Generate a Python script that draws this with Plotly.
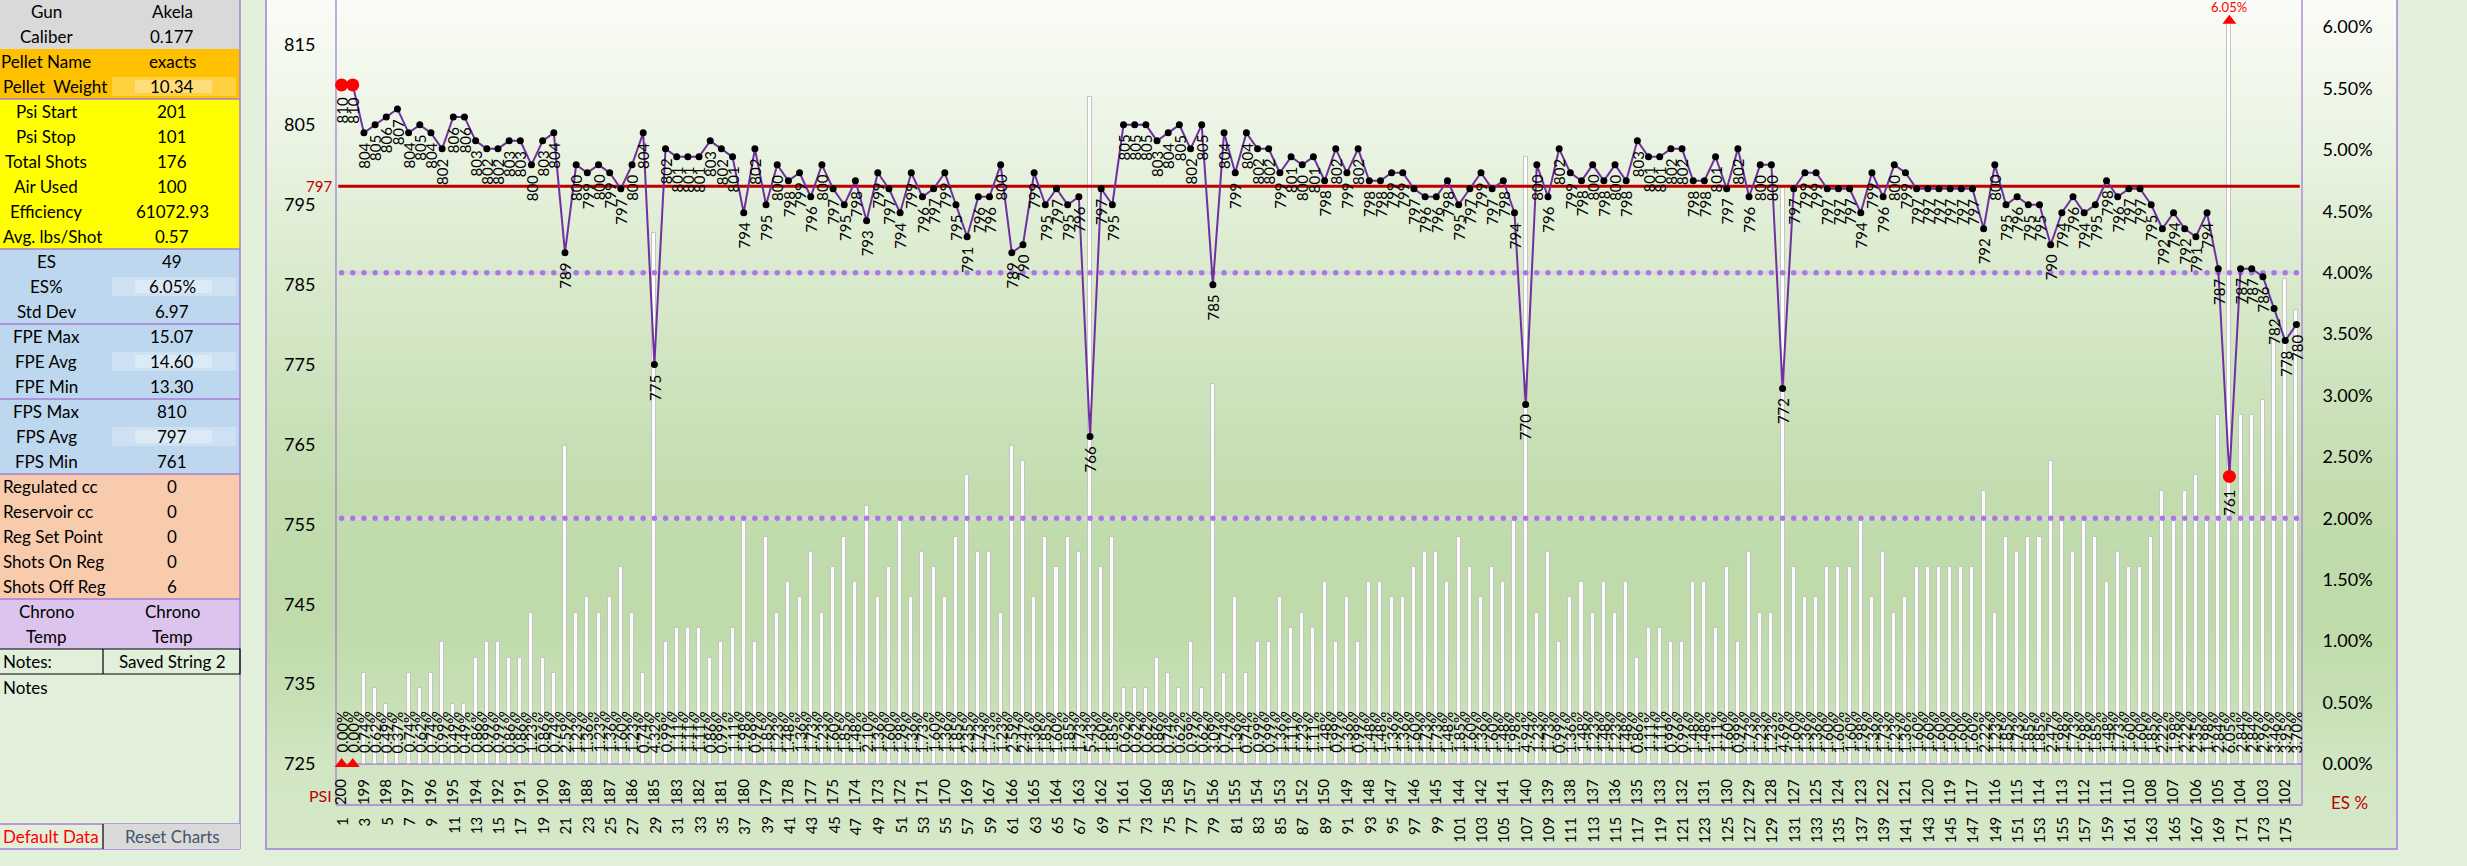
import plotly.graph_objects as go

W, H = 2467, 866
PL, PR, PT, PB = 336, 2302, 0, 764

# ---------------- data ----------------
shots = list(range(1, 177))
fps = [810, 810, 804, 805, 806, 807, 804, 805, 804, 802,
       806, 806, 803, 802, 802, 803, 803, 800, 803, 804,
       789, 800, 799, 800, 799, 797, 800, 804, 775, 802,
       801, 801, 801, 803, 802, 801, 794, 802, 795, 800,
       798, 799, 796, 800, 797, 795, 798, 793, 799, 797,
       794, 799, 796, 797, 799, 795, 791, 796, 796, 800,
       789, 790, 799, 795, 797, 795, 796, 766, 797, 795,
       805, 805, 805, 803, 804, 805, 802, 805, 785, 804,
       799, 804, 802, 802, 799, 801, 800, 801, 798, 802,
       799, 802, 798, 798, 799, 799, 797, 796, 796, 798,
       795, 797, 799, 797, 798, 794, 770, 800, 796, 802,
       799, 798, 800, 798, 800, 798, 803, 801, 801, 802,
       802, 798, 798, 801, 797, 802, 796, 800, 800, 772,
       797, 799, 799, 797, 797, 797, 794, 799, 796, 800,
       799, 797, 797, 797, 797, 797, 797, 792, 800, 795,
       796, 795, 795, 790, 794, 796, 794, 795, 798, 796,
       797, 797, 795, 792, 794, 792, 791, 794, 787, 761,
       787, 787, 786, 782, 778, 780]

es_pct = [0.00, 0.00, 0.74, 0.62, 0.49, 0.37, 0.74, 0.62, 0.74, 0.99,
          0.49, 0.49, 0.86, 0.99, 0.99, 0.86, 0.86, 1.23, 0.86, 0.74,
          2.59, 1.23, 1.36, 1.23, 1.36, 1.60, 1.23, 0.74, 4.32, 0.99,
          1.11, 1.11, 1.11, 0.86, 0.99, 1.11, 1.98, 0.99, 1.85, 1.23,
          1.48, 1.36, 1.73, 1.23, 1.60, 1.85, 1.48, 2.10, 1.36, 1.60,
          1.98, 1.36, 1.73, 1.60, 1.36, 1.85, 2.35, 1.73, 1.73, 1.23,
          2.59, 2.47, 1.36, 1.85, 1.60, 1.85, 1.73, 5.43, 1.60, 1.85,
          0.62, 0.62, 0.62, 0.86, 0.74, 0.62, 0.99, 0.62, 3.09, 0.74,
          1.36, 0.74, 0.99, 0.99, 1.36, 1.11, 1.23, 1.11, 1.48, 0.99,
          1.36, 0.99, 1.48, 1.48, 1.36, 1.36, 1.60, 1.73, 1.73, 1.48,
          1.85, 1.60, 1.36, 1.60, 1.48, 1.98, 4.94, 1.23, 1.73, 0.99,
          1.36, 1.48, 1.23, 1.48, 1.23, 1.48, 0.86, 1.11, 1.11, 0.99,
          0.99, 1.48, 1.48, 1.11, 1.60, 0.99, 1.73, 1.23, 1.23, 4.69,
          1.60, 1.36, 1.36, 1.60, 1.60, 1.60, 1.98, 1.36, 1.73, 1.23,
          1.36, 1.60, 1.60, 1.60, 1.60, 1.60, 1.60, 2.22, 1.23, 1.85,
          1.73, 1.85, 1.85, 2.47, 1.98, 1.73, 1.98, 1.85, 1.48, 1.73,
          1.60, 1.60, 1.85, 2.22, 1.98, 2.22, 2.35, 1.98, 2.84, 6.05,
          2.84, 2.84, 2.96, 3.46, 3.95, 3.70]

label_shots = list(range(1, 177, 2))
psi_labels = [200, 199, 198, 197, 196, 195, 194, 192, 191, 190,
              189, 188, 187, 186, 185, 183, 182, 181, 180, 179,
              178, 177, 175, 174, 173, 172, 171, 170, 169, 167,
              166, 165, 164, 163, 162, 161, 160, 158, 157, 156,
              155, 154, 153, 152, 150, 149, 148, 147, 146, 145,
              144, 142, 141, 140, 139, 138, 137, 136, 135, 133,
              132, 131, 130, 129, 128, 127, 125, 124, 123, 122,
              121, 120, 119, 117, 116, 115, 114, 113, 112, 111,
              110, 108, 107, 106, 105, 104, 103, 102]

fps_ticks = [725, 735, 745, 755, 765, 775, 785, 795, 805, 815]
es_ticks = [0.0, 0.5, 1.0, 1.5, 2.0, 2.5, 3.0, 3.5, 4.0, 4.5, 5.0, 5.5, 6.0]
es_levels = [2.0, 4.0]

table_labels = ["Gun", "Caliber", "Pellet Name", "Pellet  Weight", "Psi Start", "Psi Stop",
                "Total Shots", "Air Used", "Efficiency", "Avg. lbs/Shot", "ES", "ES%", "Std Dev",
                "FPE Max", "FPE Avg", "FPE Min", "FPS Max", "FPS Avg", "FPS Min",
                "Regulated cc", "Reservoir cc", "Reg Set Point", "Shots On Reg", "Shots Off Reg",
                "Chrono", "Temp"]
table_values = ["Akela", "0.177", "exacts", "10.34", "201", "101", "176", "100", "61072.93", "0.57",
                "49", "6.05%", "6.97", "15.07", "14.60", "13.30", "810", "797", "761",
                "0", "0", "0", "0", "6", "Chrono", "Temp"]
row_colors = (["#D9D9D9"] * 2 + ["#FFC000"] * 2 + ["#FFFF00"] * 6 + ["#BDD7EE"] * 9 +
              ["#F8CBAD"] * 5 + ["#DCC4EC"] * 2)
wide_labels = {"Pellet  Weight", "Avg. lbs/Shot", "Regulated cc", "Reservoir cc",
               "Reg Set Point", "Shots On Reg", "Shots Off Reg"}

FONT = "Lato"
PURPLE = "#A77DDA"

def fx(x):
    return (x - PL) / (PR - PL)

def fy(y):
    return (PB - y) / (PB - PT)

shapes = []
ann = []

def rect(x0, y0, x1, y1, fill, line=None, lw=0, layer="below"):
    shapes.append(dict(type="rect", xref="paper", yref="paper", x0=fx(x0), x1=fx(x1),
                       y0=fy(y1), y1=fy(y0), fillcolor=fill, layer=layer,
                       line=dict(color=line or "rgba(0,0,0,0)", width=lw)))

def hline(x0, x1, y, color, lw=1.2):
    shapes.append(dict(type="line", xref="paper", yref="paper", x0=fx(x0), x1=fx(x1),
                       y0=fy(y), y1=fy(y), line=dict(color=color, width=lw), layer="below"))

def vline(x, y0, y1, color, lw=1.2):
    shapes.append(dict(type="line", xref="paper", yref="paper", x0=fx(x), x1=fx(x),
                       y0=fy(y0), y1=fy(y1), line=dict(color=color, width=lw), layer="below"))

def text(x, y, s, size=17, color="black", xanchor="center"):
    ann.append(dict(x=fx(x), y=fy(y), xref="paper", yref="paper", text=s, showarrow=False,
                    xanchor=xanchor, yanchor="middle", font=dict(family=FONT, size=size, color=color)))

# -------- chart area gradient --------
stops = [(0, (250, 252, 247)), (120, (237, 245, 230)), (250, (221, 236, 209)),
         (380, (205, 227, 190)), (500, (194, 220, 174)), (620, (191, 219, 169)),
         (700, (198, 224, 180)), (764, (209, 230, 195)), (850, (213, 232, 201))]

def grad(y):
    for (ya, ca), (yb, cb) in zip(stops[:-1], stops[1:]):
        if ya <= y <= yb:
            t = (y - ya) / (yb - ya)
            c = [round(a + (b - a) * t) for a, b in zip(ca, cb)]
            return "rgb(%d,%d,%d)" % tuple(c)
    return "rgb(%d,%d,%d)" % (stops[-1][1] if y > 0 else stops[0][1])

step = 6
for y0 in range(-6, 849, step):
    rect(266, y0, 2397, min(y0 + step + 0.6, 849), grad(y0 + step / 2))
rect(266, -6, 2397, 849, "rgba(0,0,0,0)", PURPLE, 1.5)

# plot frame lines
vline(PL, -5, 805, PURPLE, 1.3)
vline(PR, -5, 805, PURPLE, 1.3)
hline(PL, PR, PB, PURPLE, 1.3)
hline(PL, PR, 805, PURPLE, 1.3)

# -------- left table --------
for k, col in enumerate(row_colors):
    top = 25 * k - 1
    rect(-5, top, 240, top + 25, col)
for k in (3, 11, 14, 17):
    top = 25 * k - 1
    rect(112, top + 3, 236, top + 22, "rgba(255,255,255,0.25)")
    rect(135, top + 6, 212, top + 19, "rgba(255,255,255,0.3)")
for k, (lab, val) in enumerate(zip(table_labels, table_values)):
    cy = 25 * k + 11.5
    if lab in wide_labels:
        text(1, cy, lab, xanchor="left")
    else:
        text(46, cy, lab)
    text(172, cy, val)
for y in (99, 249, 324, 399, 474, 599, 824, 849):
    hline(-5, 240, y, PURPLE, 1.3)
vline(240, -5, 849, PURPLE, 1.5)
# notes row
rect(-5, 649, 240, 674, "rgba(0,0,0,0)", "black", 1.2)
vline(103, 649, 674, "black", 1.2)
text(1, 661.5, "Notes:", xanchor="left")
text(172, 661.5, "Saved String 2")
text(1, 687, "Notes", xanchor="left")
# bottom buttons
rect(103, 824, 240, 849, "#D9D9D9")
vline(103, 824, 849, "black", 1.2)
text(1, 836.5, "Default Data", color="#FF0000", xanchor="left")
text(172, 836.5, "Reset Charts", color="#44546A")

# -------- traces --------
fig = go.Figure()

fig.add_trace(go.Bar(x=shots, y=es_pct, yaxis="y", width=0.36,
                     marker=dict(color="rgba(255,255,255,0.92)", line=dict(color="#C4C4C4", width=1)),
                     hoverinfo="skip", showlegend=False))

for lvl in es_levels:
    fig.add_trace(go.Scatter(x=shots, y=[lvl] * len(shots), yaxis="y", mode="lines",
                             line=dict(color="#D8D8D8", width=3.5), hoverinfo="skip", showlegend=False))
    fig.add_trace(go.Scatter(x=shots, y=[lvl] * len(shots), yaxis="y", mode="markers",
                             marker=dict(color="#A978E0", size=5.5), hoverinfo="skip", showlegend=False))

avg = sum(fps) / len(fps)
fig.add_trace(go.Scatter(x=[shots[0] - 0.3, shots[-1] + 0.3], y=[avg, avg], yaxis="y2", mode="lines",
                         line=dict(color="#C00000", width=3), hoverinfo="skip", showlegend=False))

fig.add_trace(go.Scatter(x=shots, y=fps, yaxis="y2", mode="lines+markers",
                         line=dict(color="#7030A0", width=2),
                         marker=dict(color="black", size=7), hoverinfo="skip", showlegend=False))

fmax, fmin = max(fps), min(fps)
ext = [(s, v) for s, v in zip(shots, fps) if v in (fmax, fmin)]
fig.add_trace(go.Scatter(x=[e[0] for e in ext], y=[e[1] for e in ext], yaxis="y2", mode="markers",
                         marker=dict(color="#FF0000", size=13), cliponaxis=False,
                         hoverinfo="skip", showlegend=False))

emax, emin = max(es_pct), min(es_pct)
eext = [(s, v) for s, v in zip(shots, es_pct) if v in (emax, emin)]
fig.add_trace(go.Scatter(x=[e[0] for e in eext], y=[e[1] for e in eext], yaxis="y", mode="markers",
                         marker=dict(color="#FF0000", size=12, symbol="triangle-up"), cliponaxis=False,
                         hoverinfo="skip", showlegend=False))

# data labels
for s, v in zip(shots, fps):
    ann.append(dict(x=s, y=v, xref="x", yref="y2", text=str(v), textangle=-90, showarrow=False,
                    xanchor="center", yanchor="top", yshift=-11 if v in (fmax, fmin) else -8,
                    font=dict(family=FONT, size=15, color="black")))
for s, e in zip(shots, es_pct):
    ann.append(dict(x=s, y=0, xref="x", yref="y", text="%.2f%%" % e, textangle=-90, showarrow=False,
                    xanchor="center", yanchor="bottom", yshift=9,
                    font=dict(family=FONT, size=15, color="black")))
for s, e in eext:
    if e == emax:
        ann.append(dict(x=s, y=e, xref="x", yref="y", text="%.2f%%" % e, showarrow=False,
                        xanchor="center", yanchor="bottom", yshift=5, borderpad=0,
                        font=dict(family=FONT, size=13, color="#FF0000")))
for s in label_shots:
    ann.append(dict(x=s, y=fy(815), xref="x", yref="paper", text=str(s), textangle=-90,
                    showarrow=False, xanchor="center", yanchor="top",
                    font=dict(family=FONT, size=15, color="black")))

ann.append(dict(x=fx(334), y=avg, xref="paper", yref="y2", text=str(round(avg)), showarrow=False,
                xanchor="right", yanchor="middle", font=dict(family=FONT, size=15, color="#C00000")))
text(320, 795, "PSI", size=16, color="#C00000")
text(2349, 802, "ES %", size=17, color="#C00000")

fig.update_layout(
    width=W, height=H,
    margin=dict(l=PL, r=W - PR, t=PT, b=H - PB, autoexpand=False),
    paper_bgcolor="#E2EFDA", plot_bgcolor="rgba(0,0,0,0)",
    shapes=shapes, annotations=ann, showlegend=False, bargap=0,
    xaxis=dict(range=[0.5, len(shots) + 0.5], tickmode="array", tickvals=label_shots,
               ticktext=[str(p) for p in psi_labels], tickangle=-90, showgrid=False, zeroline=False,
               showline=False, ticks="outside", ticklen=8, tickcolor="rgba(0,0,0,0)",
               tickfont=dict(family=FONT, size=15, color="black")),
    yaxis=dict(range=[0, 6.2198], side="right", tickmode="array", tickvals=es_ticks,
               ticktext=["%.2f%%" % t for t in es_ticks], showgrid=False, zeroline=False,
               showline=False, ticks="outside", ticklen=16, tickcolor="rgba(0,0,0,0)",
               tickfont=dict(family=FONT, size=18, color="black")),
    yaxis2=dict(range=[725, 820.63], side="left", overlaying="y", tickmode="array",
                tickvals=fps_ticks, showgrid=False, zeroline=False, showline=False,
                ticks="outside", ticklen=16, tickcolor="rgba(0,0,0,0)",
                tickfont=dict(family=FONT, size=18, color="black")),
)

fig.write_html("out.html", config={"displayModeBar": False},
               post_script="document.body.style.margin='0';document.body.style.overflow='hidden';")
